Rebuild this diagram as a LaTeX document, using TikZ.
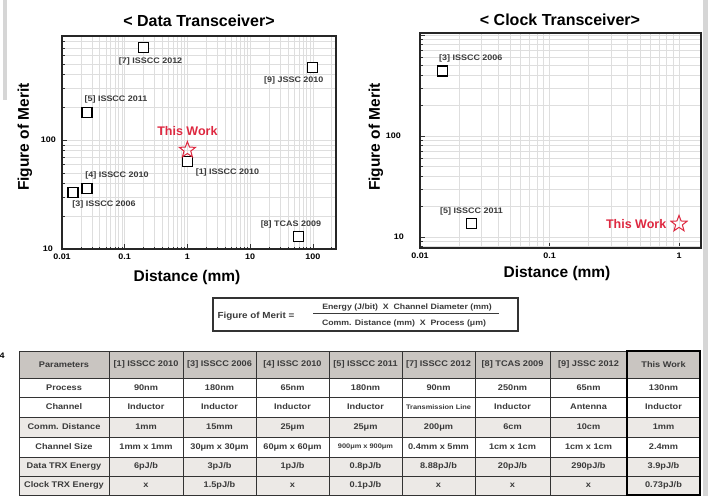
\documentclass[tikz,border=0pt]{standalone}
\usepackage{fontspec}
\setmainfont{Liberation Sans}
\newfontfamily\widesans{Liberation Sans}[FakeStretch=1.12]
\usetikzlibrary{positioning,shapes.geometric}

\definecolor{fomred}{RGB}{222,40,64}
\definecolor{gridgray}{RGB}{222,222,222}
\definecolor{hdrgray}{RGB}{201,197,193}
\definecolor{rowgray}{RGB}{236,233,230}
\definecolor{txtgray}{RGB}{58,58,58}
\definecolor{stripgray}{RGB}{214,214,214}

\newcommand\smcell[1]{{\fontsize{6.6}{7}\selectfont #1}}

\begin{document}
\begin{tikzpicture}[x=1pt, y=-1pt,
        every node/.style={inner sep=0pt, font=\bfseries},
        ttl/.style={font=\bfseries\fontsize{16}{17}\selectfont},
        axlbl/.style={font=\bfseries\fontsize{15.5}{16}\selectfont},
        ticklbl/.style={font=\widesans\bfseries\fontsize{8}{9}\selectfont},
        ptlbl/.style={font=\widesans\bfseries\fontsize{8}{9}\selectfont, text=txtgray},
        sq/.style={rectangle, draw=black, line width=1.1pt, fill=white, minimum size=10pt},
        twstar/.style={star, star points=5, star point ratio=2.4, draw=fomred, line width=1pt, minimum size=17pt},
        twlbl/.style={font=\bfseries\fontsize{12.5}{13}\selectfont, text=fomred},
        frame/.style={draw=black!85, line width=1.3pt},
        grd/.style={draw=gridgray, line width=0.6pt},
        tick/.style={draw=black!80, line width=0.6pt},
        cell/.style={font=\widesans\bfseries\fontsize{8.2}{9}\selectfont, text=txtgray},
        tline/.style={draw=black!80, line width=1pt}
    ]
        \useasboundingbox (0,0) rectangle (708,496);
        \fill[white] (0,0) rectangle (708,496);
        \fill[stripgray] (703,0) rectangle (708,496);
        \fill[stripgray] (3,0) rectangle (7,100);
        \node[font=\widesans\bfseries\fontsize{8}{8}\selectfont] (stray) at (2,356) {4};

        % Data transceiver plot
        \node[ttl] (ttlL) at (199,21) {< Data Transceiver>};
        \node[axlbl, rotate=90] (ylblL) at (25,137) {Figure of Merit};
        \node[axlbl] (xlblL) at (187,277) {Distance (mm)};
        \begin{scope}[shift={(62,249)}, x=62.7pt, y=109pt]
            \begin{scope}
                \clip (0,0) rectangle (4.37,1.954);
                \foreach \d in {-2,...,2}
                    \foreach \k in {1,...,9} {
                        \pgfmathsetmacro\gx{log10(\k)+\d+2}
                        \pgfmathsetmacro\tl{\k==1 ? 5 : 2.5}
                        \draw[grd] (\gx,0) -- (\gx,1.954);
                        \draw[tick] (\gx,0) -- ++(0,\tl pt);
                    }
                \foreach \d in {0,1}
                    \foreach \k in {1,...,9} {
                        \pgfmathsetmacro\gy{log10(\k)+\d}
                        \pgfmathsetmacro\tl{\k==1 ? 5 : 2.5}
                        \draw[grd] (0,\gy) -- (4.37,\gy);
                        \draw[tick] (0,\gy) -- ++(\tl pt,0);
                    }
            \end{scope}
            \draw[frame] (0,0) rectangle (4.37,1.954);
            \foreach \v [count=\i from 0] in {0.01,0.1,1,10,100}
                \node[ticklbl, below=5pt] (lx\i) at (\i,0) {\v};
            \node[ticklbl, left=9pt] (ly0) at (0,0) {10};
            \node[ticklbl, left=6pt] (ly1) at (0,1) {100};

            % Points
            \node[sq] (d7) at ({log10(0.2)+2},{log10(700)-1}) {};
            \node[sq] (d9) at ({log10(100)+2},{log10(460)-1}) {};
            \node[sq] (d5) at ({log10(0.025)+2},{log10(180)-1}) {};
            \node[sq] (d1) at ({log10(1)+2},{log10(63)-1}) {};
            \node[twstar] (dtw) at ({log10(1)+2},{log10(81)-1}) {};
            \node[sq] (d4) at ({log10(0.025)+2},{log10(36)-1}) {};
            \node[sq] (d3) at ({log10(0.015)+2},{log10(33)-1}) {};
            \node[sq] (d8) at ({log10(60)+2},{log10(13)-1}) {};

            \node[ptlbl, below=4pt of d7, xshift=7pt] (d7l) {[7] ISSCC 2012};
            \node[ptlbl, below=3pt of d9, xshift=-19pt] (d9l) {[9] JSSC 2010};
            \node[ptlbl, above=3pt of d5, xshift=29pt] (d5l) {[5] ISSCC 2011};
            \node[twlbl, above=4pt of dtw] (dtwl) {This Work};
            \node[ptlbl, below=1pt of d1, xshift=40pt] (d1l) {[1] ISSCC 2010};
            \node[ptlbl, above=3pt of d4, xshift=30pt] (d4l) {[4] ISSCC 2010};
            \node[ptlbl, below=2pt of d3, xshift=31pt] (d3l) {[3] ISSCC 2006};
            \node[ptlbl, above=3pt of d8, xshift=-8pt] (d8l) {[8] TCAS 2009};
        \end{scope}

        % Clock transceiver plot
        \node[ttl] (ttlR) at (560,20) {< Clock Transceiver>};
        \node[axlbl, rotate=90] (ylblR) at (376,137) {Figure of Merit};
        \node[axlbl] (xlblR) at (557,273) {Distance (mm)};
        \begin{scope}[shift={(420,237)}, x=129.5pt, y=101pt]
            \begin{scope}
                \clip (0,-0.11) rectangle (2.17,2.02);
                \foreach \d in {0,1,2}
                    \foreach \k in {1,...,9} {
                        \pgfmathsetmacro\gx{log10(\k)+\d}
                        \pgfmathsetmacro\tl{\k==1 ? 5 : 2.5}
                        \draw[grd] (\gx,-0.11) -- (\gx,2.02);
                        \draw[tick] (\gx,-0.11) -- ++(0,\tl pt);
                    }
                \foreach \d in {-1,...,2}
                    \foreach \k in {1,...,9} {
                        \pgfmathsetmacro\gy{log10(\k)+\d}
                        \pgfmathsetmacro\tl{\k==1 ? 5 : 2.5}
                        \draw[grd] (0,\gy) -- (2.17,\gy);
                        \draw[tick] (0,\gy) -- ++(\tl pt,0);
                    }
            \end{scope}
            \draw[frame] (0,-0.11) rectangle (2.17,2.02);
            \foreach \v [count=\i from 0] in {0.01,0.1,1}
                \node[ticklbl, below=5pt] (rx\i) at (\i,-0.11) {\v};
            \node[ticklbl, left=16pt] (ry0) at (0,0) {10};
            \node[ticklbl, left=19pt] (ry1) at (0,1) {100};

            % Points
            \node[sq] (c3) at ({log10(0.015)+2},{log10(440)-1}) {};
            \node[sq] (c5) at ({log10(0.025)+2},{log10(13.5)-1}) {};
            \node[twstar] (ctw) at ({log10(1)+2},{log10(13.5)-1}) {};

            \node[ptlbl, above=3pt of c3, xshift=28pt] (c3l) {[3] ISSCC 2006};
            \node[ptlbl, above=3pt of c5] (c5l) {[5] ISSCC 2011};
            \node[twlbl, left=7pt of ctw] (ctwl) {This Work};
        \end{scope}

        % Figure of merit formula
        \node[draw=black!80, line width=1.2pt, minimum width=305pt, minimum height=33pt] (fombox) at (365.5,314.5) {};
        \node[font=\widesans\bfseries\fontsize{8.8}{9}\selectfont, text=txtgray] (fomlhs) at (256,316) {Figure of Merit =};
        \node[font=\widesans\bfseries\fontsize{7.8}{9}\selectfont, text=txtgray] (fomnum) at (407,307.5) {Energy (J/bit)~~X~~Channel Diameter (mm)};
        \node[font=\widesans\bfseries\fontsize{7.8}{9}\selectfont, text=txtgray] (fomden) at (404,323.5) {Comm. Distance (mm)~~X~~Process (μm)};
        \draw[line width=0.8pt, txtgray] ([shift={(-9,2.5)}]fomnum.south west) -- ([shift={(7,2.5)}]fomnum.south east);

        % Comparison table
        \def\colmid{{64,146,219.5,292.5,365.5,438.5,512.5,588.5,663.5}}
        \fill[hdrgray] (19,351) rectangle (700,378);
        \fill[rowgray] (19,417) rectangle (700,437);
        \fill[rowgray] (19,457) rectangle (700,495);
        \foreach \x in {19,109,183,256,329,402,475,550,627,700}
            \draw[tline] (\x,351) -- (\x,495);
        \foreach \y in {351,378,397,417,437,457,476,495}
            \draw[tline] (19,\y) -- (700,\y);
        \draw[line width=2pt] (627,351) rectangle (700,495);

        \foreach \txt [count=\c] in {Parameters, {[1] ISSCC 2010}, {[3] ISSCC 2006}, {[4] ISSC 2010}, {[5] ISSCC 2011}, {[7] ISSCC 2012}, {[8] TCAS 2009}, {[9] JSSC 2012}, This Work} {
            \pgfmathsetmacro\cx{\colmid[\c-1]}
            \node[cell] (h\c) at (\cx,364.5) {\txt};
        }
        \foreach \txt [count=\c] in {Process, 90nm, 180nm, 65nm, 180nm, 90nm, 250nm, 65nm, 130nm} {
            \pgfmathsetmacro\cx{\colmid[\c-1]}
            \node[cell] (pr\c) at (\cx,387.5) {\txt};
        }
        \foreach \txt [count=\c] in {Channel, Inductor, Inductor, Inductor, Inductor, \smcell{Transmission Line}, Inductor, Antenna, Inductor} {
            \pgfmathsetmacro\cx{\colmid[\c-1]}
            \node[cell] (ch\c) at (\cx,407) {\txt};
        }
        \foreach \txt [count=\c] in {Comm. Distance, 1mm, 15mm, 25μm, 25μm, 200μm, 6cm, 10cm, 1mm} {
            \pgfmathsetmacro\cx{\colmid[\c-1]}
            \node[cell] (cd\c) at (\cx,427) {\txt};
        }
        \foreach \txt [count=\c] in {Channel Size, 1mm x 1mm, 30μm x 30μm, 60μm x 60μm, \smcell{900μm x 900μm}, 0.4mm x 5mm, 1cm x 1cm, 1cm x 1cm, 2.4mm} {
            \pgfmathsetmacro\cx{\colmid[\c-1]}
            \node[cell] (cs\c) at (\cx,447) {\txt};
        }
        \foreach \txt [count=\c] in {Data TRX Energy, 6pJ/b, 3pJ/b, 1pJ/b, 0.8pJ/b, 8.88pJ/b, 20pJ/b, 290pJ/b, 3.9pJ/b} {
            \pgfmathsetmacro\cx{\colmid[\c-1]}
            \node[cell] (de\c) at (\cx,466.5) {\txt};
        }
        \foreach \txt [count=\c] in {Clock TRX Energy, x, 1.5pJ/b, x, 0.1pJ/b, x, x, x, 0.73pJ/b} {
            \pgfmathsetmacro\cx{\colmid[\c-1]}
            \node[cell] (ce\c) at (\cx,485.5) {\txt};
        }
    \end{tikzpicture}
\end{document}
